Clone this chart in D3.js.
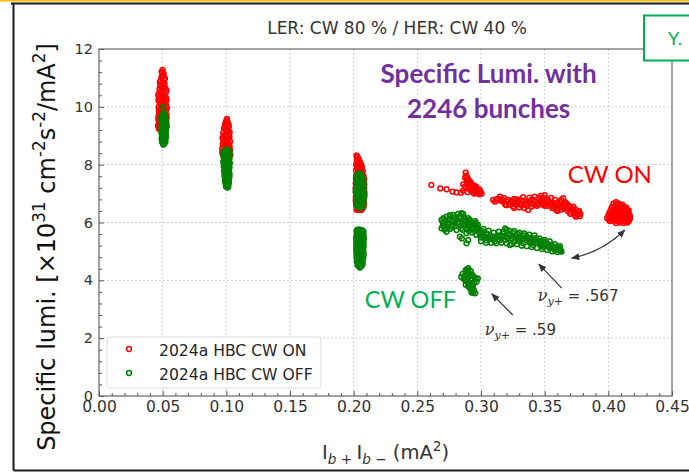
<!DOCTYPE html>
<html><head><meta charset="utf-8">
<script src="https://cdn.jsdelivr.net/npm/d3@7"></script>
<style>html,body{margin:0;padding:0;background:#fff;} svg{display:block;}</style>
</head><body>
<svg id="chart" width="689" height="474"></svg>
<script>
// Axis ticks
const xTicks = [0, 0.05, 0.10, 0.15, 0.20, 0.25, 0.30, 0.35, 0.40, 0.45];
const yTicks = [0, 2, 4, 6, 8, 10, 12];
const seriesNames = ["2024a HBC CW ON", "2024a HBC CW OFF"];

// Specific luminosity vs. Ib+ * Ib- (mA^2), crab waist ON
const cwOn = [
  // 0.05 mA^2
  [0.0500,11.28],[0.0495,11.18],[0.0505,11.10],[0.0490,11.02],[0.0510,10.95],[0.0485,10.90],[0.0500,10.85],[0.0515,10.80],
  [0.0480,10.75],[0.0495,10.70],[0.0520,10.65],[0.0475,10.62],[0.0505,10.58],[0.0488,10.52],[0.0525,10.50],[0.0470,10.46],
  [0.0500,10.42],[0.0515,10.38],[0.0478,10.34],[0.0528,10.30],[0.0492,10.28],[0.0466,10.24],[0.0508,10.20],[0.0522,10.15],
  [0.0480,10.12],[0.0495,10.06],[0.0530,10.02],[0.0468,10.00],[0.0512,9.96],[0.0485,9.92],[0.0525,9.86],[0.0472,9.82],
  [0.0500,9.78],[0.0530,9.72],[0.0478,9.68],[0.0520,9.60],[0.0466,9.56],[0.0528,9.50],[0.0472,9.44],[0.0525,9.40],
  [0.0464,9.34],[0.0478,9.28],[0.0470,9.24],[0.0532,9.32],
  [0.0492,11.22],[0.0508,11.15],[0.0498,11.05],[0.0518,10.98],[0.0478,10.86],[0.0508,10.76],[0.0490,10.64],[0.0530,10.58],
  [0.0465,10.40],[0.0488,10.38],[0.0510,10.32],[0.0474,10.18],[0.0500,10.16],[0.0530,10.22],[0.0488,10.02],[0.0515,10.08],
  [0.0470,9.90],[0.0532,9.94],[0.0478,9.74],[0.0466,9.66],[0.0532,9.62],[0.0474,9.50],[0.0468,9.40],[0.0530,9.44],[0.0483,9.36],
  // 0.10 mA^2
  [0.1005,9.58],[0.0998,9.50],[0.1012,9.45],[0.0990,9.40],[0.1008,9.35],[0.1020,9.30],[0.0982,9.26],[0.0998,9.22],
  [0.1015,9.18],[0.1026,9.12],[0.0975,9.10],[0.0992,9.05],[0.1010,9.00],[0.1024,8.95],[0.0970,8.92],[0.0985,8.88],
  [0.1002,8.84],[0.1030,8.80],[0.1016,8.76],[0.0972,8.72],[0.0990,8.68],[0.1026,8.64],[0.1008,8.60],[0.0968,8.56],
  [0.1030,8.50],[0.0980,8.46],[0.1020,8.42],[0.0970,8.38],[0.1032,8.35],
  [0.1002,9.52],[0.1018,9.38],[0.0988,9.32],[0.1004,9.14],[0.0980,9.00],[0.1022,9.04],[0.0996,8.96],[0.1012,8.90],
  [0.0978,8.80],[0.0995,8.78],[0.1020,8.70],[0.0982,8.62],[0.1015,8.54],[0.0995,8.52],[0.0968,8.45],[0.1028,8.30],
  // 0.205 mA^2
  [0.2022,8.32],[0.2030,8.25],[0.2040,8.20],[0.2025,8.15],[0.2048,8.10],[0.2035,8.05],[0.2020,8.00],[0.2055,7.98],
  [0.2042,7.92],[0.2028,7.88],[0.2060,7.85],[0.2018,7.80],[0.2050,7.76],[0.2035,7.72],[0.2068,7.68],[0.2022,7.64],
  [0.2075,7.55],[0.2018,7.50],[0.2078,7.40],[0.2016,7.35],[0.2080,7.25],[0.2015,7.20],[0.2082,7.10],[0.2016,7.05],
  [0.2084,6.95],[0.2018,6.90],[0.2082,6.80],[0.2016,6.75],[0.2080,6.65],[0.2020,6.60],[0.2075,6.52],[0.2030,6.48],
  [0.2050,6.45],[0.2065,6.47],[0.2022,6.44],
  [0.2028,8.28],[0.2038,8.12],[0.2058,8.02],[0.2065,7.92],[0.2025,7.96],[0.2045,7.84],[0.2072,7.78],[0.2030,7.70],
  [0.2055,7.66],[0.2078,7.60],[0.2030,7.58],[0.2082,7.48],[0.2022,7.44],[0.2020,7.28],[0.2084,7.32],[0.2018,7.15],
  [0.2082,7.18],[0.2085,7.02],[0.2020,6.98],[0.2017,6.84],[0.2083,6.88],[0.2018,6.68],[0.2080,6.72],[0.2078,6.58],
  [0.2025,6.54],[0.2040,6.44],[0.2060,6.43],
  // scan 0.26 - 0.30
  [0.2610,7.30],[0.2680,7.18],[0.2730,7.15],[0.2776,7.07],[0.2808,7.04],[0.2841,7.03],[0.2860,7.10],[0.2880,7.72],
  [0.2885,7.62],[0.2875,7.55],[0.2890,7.45],[0.2915,7.40],[0.2895,7.38],[0.2875,7.25],[0.2910,7.30],[0.2925,7.35],
  [0.2905,7.22],[0.2935,7.20],[0.2950,7.12],[0.2965,7.18],[0.2925,7.08],[0.2975,7.05],[0.2995,7.08],[0.3005,7.00],
  [0.2945,7.00],[0.2895,7.05],[0.2985,6.98],[0.2940,7.28],[0.2960,7.25],
  [0.2890,7.58],[0.2900,7.50],[0.2905,7.44],[0.2930,7.27],[0.2955,7.22],[0.2985,7.15],[0.2915,7.14],[0.2935,7.12],
  [0.2965,7.08],[0.2990,7.02],[0.2955,7.05],[0.2880,7.18],[0.2860,7.32],
  // scan 0.31 - 0.38
  [0.3095,6.78],[0.3148,6.89],[0.3174,6.72],[0.3213,6.78],[0.3252,6.66],[0.3252,6.55],[0.3291,6.72],[0.3318,6.60],
  [0.3357,6.66],[0.3370,6.43],[0.3396,6.78],[0.3422,6.89],[0.3462,6.84],[0.3500,6.95],[0.3514,6.78],[0.3540,6.66],
  [0.3566,6.55],[0.3592,6.43],[0.3645,6.84],[0.3670,6.66],[0.3697,6.55],[0.3723,6.43],[0.3763,6.37],[0.3776,6.22],
  [0.3736,6.26],[0.3120,6.80],[0.3180,6.85],[0.3230,6.70],[0.3280,6.62],[0.3330,6.72],[0.3380,6.70],[0.3430,6.75],
  [0.3480,6.80],[0.3530,6.72],[0.3570,6.68],[0.3610,6.60],[0.3640,6.55],[0.3660,6.48],[0.3680,6.40],[0.3710,6.50],
  [0.3740,6.45],[0.3755,6.30],[0.3780,6.30],[0.3620,6.70],[0.3580,6.78],[0.3550,6.85],[0.3470,6.92],[0.3450,6.62],
  [0.3500,6.58],[0.3410,6.62],[0.3360,6.58],[0.3305,6.78],[0.3260,6.82],[0.3190,6.62],[0.3155,6.75],[0.3605,6.48],
  [0.3655,6.62],[0.3700,6.36],[0.3745,6.20],
  [0.3110,6.72],[0.3135,6.82],[0.3165,6.80],[0.3200,6.74],[0.3220,6.62],[0.3240,6.75],[0.3270,6.70],[0.3300,6.65],
  [0.3320,6.76],[0.3345,6.64],[0.3370,6.74],[0.3395,6.68],[0.3415,6.78],[0.3440,6.68],[0.3470,6.72],[0.3490,6.86],
  [0.3510,6.66],[0.3525,6.80],[0.3555,6.62],[0.3575,6.58],[0.3600,6.66],[0.3625,6.56],[0.3650,6.50],[0.3665,6.56],
  [0.3690,6.46],[0.3715,6.42],[0.3730,6.34],[0.3760,6.26],[0.3770,6.40],[0.3725,6.55],[0.3685,6.60],[0.3630,6.78],[0.3660,6.70],
  [0.3200,6.60],[0.3260,6.50],[0.3300,6.52],[0.3340,6.50],[0.3400,6.55],[0.3440,6.58],[0.3480,6.62],[0.3380,6.86],
  [0.3330,6.88],[0.3280,6.80],[0.3520,6.58],[0.3560,6.50],[0.3600,6.40],[0.3630,6.45],[0.3700,6.30],
  // 0.41 mA^2
  [0.4040,6.65],[0.4080,6.66],[0.4110,6.62],
  [0.4030,6.55],[0.4060,6.56],[0.4090,6.55],[0.4120,6.54],[0.4140,6.52],
  [0.4020,6.45],[0.4050,6.45],[0.4080,6.46],[0.4110,6.45],[0.4140,6.44],[0.4160,6.42],
  [0.4010,6.35],[0.4040,6.35],[0.4070,6.36],[0.4100,6.35],[0.4130,6.34],[0.4160,6.33],
  [0.4000,6.25],[0.4030,6.25],[0.4060,6.26],[0.4090,6.25],[0.4120,6.24],[0.4150,6.25],[0.4170,6.23],
  [0.3990,6.15],[0.4020,6.15],[0.4050,6.16],[0.4080,6.15],[0.4110,6.14],[0.4140,6.15],[0.4170,6.13],
  [0.4010,6.05],[0.4040,6.05],[0.4070,6.06],[0.4100,6.05],[0.4130,6.04],[0.4160,6.05],
  [0.4060,5.98],[0.4120,5.98],
  [0.4060,6.70],[0.4095,6.60],[0.4045,6.50],[0.4075,6.50],[0.4105,6.50],[0.4130,6.48],[0.4035,6.40],[0.4065,6.40],
  [0.4095,6.40],[0.4125,6.40],[0.4150,6.38],[0.4025,6.30],[0.4055,6.30],[0.4085,6.30],[0.4115,6.30],[0.4145,6.30],
  [0.4015,6.20],[0.4045,6.20],[0.4075,6.20],[0.4105,6.20],[0.4135,6.20],[0.4165,6.18],[0.4005,6.10],[0.4035,6.10],
  [0.4065,6.10],[0.4095,6.10],[0.4125,6.10],[0.4155,6.10],[0.4090,6.00],[0.4150,6.00]
];

// Crab waist OFF
const cwOff = [
  // 0.05 mA^2
  [0.0502,10.00],
  [0.0505,9.78],[0.0495,9.72],[0.0515,9.70],[0.0500,9.64],[0.0520,9.60],[0.0490,9.58],[0.0508,9.54],[0.0525,9.50],
  [0.0494,9.48],[0.0515,9.44],[0.0500,9.40],[0.0522,9.36],[0.0490,9.34],[0.0508,9.30],[0.0525,9.26],[0.0495,9.24],
  [0.0515,9.20],[0.0500,9.16],[0.0522,9.12],[0.0490,9.10],[0.0510,9.06],[0.0525,9.02],[0.0495,9.00],[0.0515,8.96],
  [0.0502,8.92],[0.0520,8.88],[0.0494,8.86],[0.0510,8.82],[0.0500,8.77],[0.0515,8.73],[0.0505,8.69],
  [0.0492,9.66],[0.0512,9.76],[0.0522,9.66],[0.0492,9.52],[0.0518,9.56],[0.0505,9.46],[0.0525,9.40],[0.0495,9.36],
  [0.0515,9.32],[0.0502,9.28],[0.0490,9.20],[0.0525,9.18],[0.0508,9.12],[0.0495,9.06],[0.0520,9.08],[0.0505,8.98],
  [0.0525,8.94],[0.0492,8.92],[0.0512,8.88],[0.0500,8.84],[0.0522,8.80],[0.0495,8.78],[0.0508,8.72],
  // 0.10 mA^2
  [0.1000,8.52],[0.0985,8.46],[0.1015,8.44],[0.0975,8.40],[0.1028,8.38],[0.0995,8.34],[0.1010,8.30],[0.0978,8.26],
  [0.1025,8.22],[0.0992,8.18],[0.1012,8.14],[0.0975,8.10],[0.1028,8.06],[0.0998,8.02],[0.1015,7.98],[0.0980,7.94],
  [0.1025,7.90],[0.0995,7.86],[0.1010,7.82],[0.0982,7.78],[0.1022,7.74],[0.0998,7.70],[0.1012,7.66],[0.0985,7.62],
  [0.1025,7.58],[0.1000,7.54],[0.1015,7.50],[0.0990,7.46],[0.1020,7.42],[0.1005,7.38],[0.0995,7.34],[0.1015,7.30],
  [0.1002,7.26],[0.1010,7.21],
  [0.0992,8.50],[0.1022,8.48],[0.1005,8.42],[0.0985,8.36],[0.1018,8.32],[0.1000,8.26],[0.0982,8.20],[0.1020,8.16],
  [0.1002,8.10],[0.0985,8.04],[0.1022,8.00],[0.1005,7.94],[0.0988,7.88],[0.1020,7.84],[0.1003,7.78],[0.0988,7.72],
  [0.1025,7.68],[0.1005,7.62],[0.0990,7.56],[0.1020,7.52],[0.1005,7.46],[0.0992,7.40],[0.1018,7.36],[0.1005,7.30],
  [0.0998,7.24],[0.1015,7.24],
  // 0.205 mA^2, upper group
  [0.2040,7.70],[0.2025,7.64],[0.2058,7.62],[0.2018,7.56],[0.2045,7.55],[0.2072,7.52],[0.2030,7.48],[0.2060,7.44],
  [0.2018,7.40],[0.2080,7.38],[0.2045,7.34],[0.2025,7.28],[0.2068,7.26],[0.2082,7.20],[0.2035,7.18],[0.2016,7.12],
  [0.2055,7.10],[0.2078,7.04],[0.2028,7.00],[0.2062,6.96],[0.2018,6.92],[0.2045,6.88],[0.2080,6.85],[0.2030,6.80],
  [0.2065,6.76],[0.2020,6.72],[0.2050,6.68],[0.2075,6.64],[0.2035,6.60],[0.2058,6.56],[0.2040,6.52],
  [0.2055,7.68],[0.2035,7.60],[0.2065,7.56],[0.2042,7.44],[0.2025,7.36],[0.2062,7.34],[0.2048,7.24],[0.2020,7.22],
  [0.2072,7.14],[0.2042,7.06],[0.2018,7.04],[0.2068,7.02],[0.2040,6.96],[0.2082,6.94],[0.2022,6.84],[0.2058,6.84],
  [0.2040,6.76],[0.2078,6.74],[0.2032,6.66],[0.2065,6.62],[0.2022,6.58],[0.2075,6.55],[0.2050,6.50],
  // 0.205 mA^2, lower group
  [0.2040,5.76],[0.2060,5.74],[0.2022,5.70],[0.2078,5.68],[0.2048,5.64],[0.2028,5.60],[0.2068,5.56],[0.2020,5.52],
  [0.2050,5.50],[0.2080,5.46],[0.2032,5.42],[0.2062,5.38],[0.2020,5.34],[0.2045,5.30],[0.2078,5.26],[0.2028,5.22],
  [0.2060,5.18],[0.2020,5.14],[0.2048,5.10],[0.2075,5.06],[0.2030,5.02],[0.2062,4.98],[0.2022,4.94],[0.2050,4.90],
  [0.2078,4.86],[0.2032,4.82],[0.2060,4.78],[0.2025,4.74],[0.2048,4.70],[0.2072,4.66],[0.2035,4.62],[0.2058,4.58],
  [0.2040,4.54],[0.2062,4.50],[0.2045,4.46],
  [0.2028,5.74],[0.2070,5.72],[0.2040,5.66],[0.2058,5.60],[0.2078,5.56],[0.2035,5.52],[0.2062,5.48],[0.2022,5.44],
  [0.2050,5.40],[0.2078,5.36],[0.2035,5.32],[0.2060,5.28],[0.2020,5.24],[0.2048,5.20],[0.2078,5.16],[0.2035,5.12],
  [0.2062,5.08],[0.2020,5.04],[0.2048,5.00],[0.2078,4.96],[0.2035,4.92],[0.2062,4.88],[0.2022,4.84],[0.2050,4.80],
  [0.2075,4.76],[0.2035,4.72],[0.2060,4.68],[0.2025,4.64],[0.2048,4.60],[0.2070,4.56],[0.2030,4.52],[0.2052,4.48],[0.2050,4.44],
  // scan 0.27 - 0.36
  [0.2690,6.09],[0.2690,5.80],[0.2729,6.20],[0.2742,5.91],[0.2729,5.68],[0.2781,6.26],[0.2794,5.97],[0.2808,5.74],
  [0.2834,6.14],[0.2847,6.32],[0.2860,5.91],[0.2886,5.63],[0.2899,5.39],[0.2912,6.09],[0.2925,5.80],[0.2951,5.91],
  [0.2964,5.57],[0.2991,5.68],[0.2834,5.51],[0.2886,5.28],
  [0.3017,5.57],[0.3043,5.39],[0.3082,5.45],[0.3108,5.34],[0.3148,5.39],[0.3174,5.68],[0.3200,5.74],[0.3213,5.45],
  [0.3226,5.22],[0.3252,5.63],[0.3265,5.34],[0.3305,5.45],[0.3331,5.28],[0.3357,5.51],[0.3383,5.34],[0.3410,5.22],
  [0.3435,5.39],[0.3462,5.28],[0.3488,5.16],[0.3514,5.22],[0.3540,5.11],[0.3579,5.05],[0.3619,5.02],[0.3632,4.99],
  [0.3060,5.50],[0.3120,5.48],[0.3160,5.55],[0.3190,5.40],[0.3230,5.55],[0.3280,5.45],[0.3320,5.40],[0.3360,5.38],
  [0.3400,5.42],[0.3440,5.30],[0.3470,5.20],[0.3500,5.30],[0.3530,5.18],[0.3560,5.12],[0.3590,5.10],[0.3610,5.05],
  [0.3045,5.62],[0.3000,5.48],[0.2970,5.75],[0.2930,5.65],[0.2900,5.95],[0.2870,6.05],[0.2830,5.85],[0.2780,6.05],
  [0.2760,5.78],[0.2710,5.95],[0.2705,6.15],[0.2755,6.25],[0.2820,6.30],[0.2865,6.20],[0.2890,5.78],[0.2940,5.98],
  [0.2970,5.85],[0.3000,5.62],[0.3290,5.60],[0.3340,5.55],[0.3380,5.48],[0.3420,5.45],[0.3450,5.38],[0.3490,5.35],
  [0.3520,5.28],[0.3550,5.22],[0.3580,5.15],[0.3615,5.12],[0.2850,5.45],
  [0.2700,5.88],[0.2720,6.05],[0.2735,5.80],[0.2750,6.12],[0.2770,5.92],[0.2790,6.18],[0.2805,5.88],[0.2815,6.00],
  [0.2840,6.22],[0.2850,5.98],[0.2855,5.75],[0.2875,6.12],[0.2880,5.90],[0.2900,6.15],[0.2905,5.70],[0.2920,5.92],
  [0.2935,5.78],[0.2950,5.70],[0.2960,5.98],[0.2980,5.80],[0.2990,5.55],[0.3010,5.70],[0.3030,5.50],[0.3050,5.58],
  [0.3070,5.42],[0.3090,5.52],[0.3100,5.42],[0.3130,5.40],[0.3140,5.55],[0.3170,5.48],[0.3180,5.62],[0.3200,5.50],
  [0.3215,5.62],[0.3240,5.45],[0.3250,5.52],[0.3275,5.55],[0.3295,5.38],[0.3310,5.52],[0.3340,5.45],[0.3370,5.42],
  [0.3395,5.30],[0.3410,5.35],[0.3430,5.45],[0.3455,5.35],[0.3475,5.28],[0.3505,5.22],[0.3525,5.20],[0.3545,5.15],
  [0.3565,5.18],[0.3595,5.06],[0.3605,5.12],[0.3625,5.04],
  [0.3000,5.35],[0.3040,5.30],[0.3080,5.30],[0.3120,5.28],[0.3160,5.30],[0.3200,5.28],[0.3240,5.25],[0.3280,5.25],
  [0.3320,5.20],[0.3360,5.18],[0.3400,5.15],[0.3440,5.12],[0.3480,5.08],[0.3520,5.05],[0.3560,5.00],[0.3600,4.98],
  [0.3020,5.78],[0.3060,5.72],[0.3100,5.65],[0.3140,5.68],[0.3190,5.80],[0.3220,5.72],[0.3260,5.70],[0.3300,5.65],
  [0.3340,5.62],[0.3380,5.58],[0.3420,5.55],[0.3460,5.45],[0.3500,5.40],[0.3540,5.35],[0.3580,5.25],[0.3620,5.18],
  [0.2700,6.00],[0.2715,5.75],[0.2745,6.00],[0.2760,6.22],[0.2775,5.85],[0.2800,6.10],[0.2825,5.95],[0.2830,6.20],
  [0.2845,5.80],[0.2870,5.95],[0.2860,6.30],[0.2895,6.05],[0.2910,5.85],[0.2925,6.02],[0.2945,5.82],[0.2955,6.05],
  [0.2975,5.92],[0.2985,5.70],
  // 0.29 mA^2, low group
  [0.2900,4.42],[0.2880,4.35],[0.2920,4.32],[0.2855,4.22],[0.2885,4.20],[0.2915,4.18],[0.2945,4.12],[0.2975,4.07],
  [0.2845,4.12],[0.2895,4.05],[0.2930,4.00],[0.2965,3.95],[0.2910,3.92],[0.2880,3.85],[0.2935,3.82],[0.2915,3.72],
  [0.2945,3.65],[0.2925,3.58],[0.2955,3.55],[0.2900,3.80],[0.2895,4.28],[0.2865,4.05],
  [0.2890,4.38],[0.2910,4.25],[0.2870,4.15],[0.2900,4.12],[0.2930,4.20],[0.2960,4.05],[0.2920,4.06],[0.2880,3.98],
  [0.2945,3.90],[0.2900,3.88],[0.2925,3.86],[0.2905,3.78],[0.2935,3.74],[0.2930,3.65],[0.2940,3.56]
];

const W = 689, H = 474;
const box = {left: 99, right: 672, top: 49, bottom: 396};
const colOn = "#ff0000", colOff = "#008000";
const tickFont = "DejaVu Sans, sans-serif";
const slideFont = "Lato, 'Open Sans', sans-serif";
const markR = 2.4, markW = 1.5;

const svg = d3.select("#chart");
const x = d3.scaleLinear().domain([0, 0.45]).range([box.left, box.right]);
const y = d3.scaleLinear().domain([0, 12]).range([box.bottom, box.top]);

svg.append("rect").attr("width", W).attr("height", H).attr("fill", "#fff");

// slide frame
svg.append("rect").attr("x", 0).attr("y", 0).attr("width", W).attr("height", 1.6).attr("fill", "#f2c014");
svg.append("path").attr("d", `M11,3.5 H${W} M13.5,3.5 V470.5 M13.5,470.5 H${W}`)
  .attr("stroke", "#1c1c1c").attr("stroke-width", 2).attr("fill", "none");

// grid
const grid = svg.append("g").attr("stroke", "#cfcfcf").attr("stroke-width", 1).attr("stroke-dasharray", "2,2");
grid.selectAll("line.gx").data(xTicks.slice(1, -1)).join("line")
  .attr("x1", d => x(d)).attr("x2", d => x(d)).attr("y1", box.top).attr("y2", box.bottom);
grid.selectAll("line.gy").data(yTicks.slice(1, -1)).join("line")
  .attr("y1", d => y(d)).attr("y2", d => y(d)).attr("x1", box.left).attr("x2", box.right);

// minor ticks
const xMinor = d3.range(0, 0.4501, 0.01).filter(v => Math.abs(v / 0.05 - Math.round(v / 0.05)) > 1e-6);
const yMinor = d3.range(0, 12.001, 0.4).filter(v => Math.abs(v / 2 - Math.round(v / 2)) > 1e-6);

function styleAxis(size) {
  return g => {
    g.select(".domain").remove();
    g.selectAll(".tick line").attr("stroke", "#555").attr("stroke-width", 1);
    g.selectAll(".tick text").attr("fill", "#333").attr("font-family", tickFont).attr("font-size", size);
  };
}

svg.append("g").attr("transform", `translate(0,${box.bottom})`)
  .call(d3.axisBottom(x).tickValues(xMinor).tickFormat("").tickSizeInner(-3).tickSizeOuter(0))
  .call(styleAxis(15));
svg.append("g").attr("transform", `translate(${box.left},0)`)
  .call(d3.axisLeft(y).tickValues(yMinor).tickFormat("").tickSizeInner(-3).tickSizeOuter(0))
  .call(styleAxis(15));
svg.append("g").attr("transform", `translate(0,${box.bottom})`)
  .call(d3.axisBottom(x).tickValues(xTicks).tickFormat(d3.format(".2f")).tickSizeInner(-5).tickSizeOuter(0).tickPadding(5))
  .call(styleAxis(15.5));
svg.append("g").attr("transform", `translate(${box.left},0)`)
  .call(d3.axisLeft(y).tickValues(yTicks).tickFormat(d3.format("d")).tickSizeInner(-5).tickSizeOuter(0).tickPadding(6))
  .call(styleAxis(14.5));

// plot frame
svg.append("rect").attr("x", box.left).attr("y", box.top)
  .attr("width", box.right - box.left).attr("height", box.bottom - box.top)
  .attr("fill", "none").attr("stroke", "#666").attr("stroke-width", 1.2);

// scatter
function drawSeries(data, color) {
  svg.append("g").selectAll("circle").data(data).join("circle")
    .attr("cx", d => x(d[0])).attr("cy", d => y(d[1])).attr("r", markR)
    .attr("fill", "none").attr("stroke", color).attr("stroke-width", markW);
}
drawSeries(cwOn, colOn);
drawSeries(cwOff, colOff);

// legend
const lg = svg.append("g");
lg.append("rect").attr("x", 107).attr("y", 337).attr("width", 214).attr("height", 51).attr("rx", 3)
  .attr("fill", "#fff").attr("fill-opacity", 0.85).attr("stroke", "#dcdcdc");
[colOn, colOff].forEach((c, i) => {
  lg.append("circle").attr("cx", 129).attr("cy", 349 + i * 24).attr("r", markR)
    .attr("fill", "none").attr("stroke", c).attr("stroke-width", markW);
  lg.append("text").attr("x", 159).attr("y", 356 + i * 24).text(seriesNames[i])
    .attr("font-family", tickFont).attr("font-size", 15.6).attr("fill", "#262626");
});

// axis titles with super/subscripts
function richText(sel, parts, size) {
  let shift = 0;
  parts.forEach(([t, kind, style]) => {
    const target = kind === "sup" ? -0.42 * size : (kind === "sub" ? 0.28 * size : 0);
    const ts = sel.append("tspan").text(t).attr("dy", target - shift);
    shift = target;
    if (kind) ts.attr("font-size", size * 0.7);
    if (style === "i") ts.attr("font-style", "italic");
  });
}
const ylSize = 24;
const yl = svg.append("text").attr("transform", "translate(55,247) rotate(-90)")
  .attr("text-anchor", "middle").attr("font-family", tickFont).attr("font-size", ylSize).attr("fill", "#111");
richText(yl, [["Specific lumi. [\u00d710", ""], ["31", "sup"], [" cm", ""], ["-2", "sup"], ["s", ""], ["-2", "sup"], ["/mA", ""], ["2", "sup"], ["]", ""]], ylSize);

const xlSize = 19.5;
const xl = svg.append("text").attr("x", (box.left + box.right) / 2).attr("y", 459)
  .attr("text-anchor", "middle").attr("font-family", tickFont).attr("font-size", xlSize).attr("fill", "#333");
richText(xl, [["I", ""], ["b", "sub", "i"], [" + ", "sub"], ["I", ""], ["b", "sub", "i"], [" \u2212", "sub"], ["  (mA", ""], ["2", "sup"], [")", ""]], xlSize);

svg.append("text").attr("x", 397).attr("y", 34).attr("text-anchor", "middle")
  .attr("font-family", tickFont).attr("font-size", 17).attr("fill", "#333")
  .text("LER: CW 80 % / HER: CW 40 %");

// corner tag
svg.append("rect").attr("x", 644).attr("y", 15.5).attr("width", 60).attr("height", 45)
  .attr("fill", "#fff").attr("stroke", "#00b050").attr("stroke-width", 2);
svg.append("text").attr("x", 668).attr("y", 45).text("Y.")
  .attr("font-family", slideFont).attr("font-size", 18).attr("fill", "#00b050");

// annotations
svg.append("text").attr("x", x(0.306)).attr("y", y(10.82)).attr("text-anchor", "middle")
  .attr("font-family", slideFont).attr("font-weight", 700).attr("font-size", 26).attr("fill", "#7030a0")
  .text("Specific Lumi. with");
svg.append("text").attr("x", x(0.306)).attr("y", y(9.61)).attr("text-anchor", "middle")
  .attr("font-family", slideFont).attr("font-weight", 700).attr("font-size", 26).attr("fill", "#7030a0")
  .text("2246 bunches");
svg.append("text").attr("x", x(0.3681)).attr("y", y(7.37))
  .attr("font-family", slideFont).attr("font-size", 24).attr("fill", "#ff0000").text("CW ON");
svg.append("text").attr("x", x(0.2088)).attr("y", y(3.04))
  .attr("font-family", slideFont).attr("font-size", 23.5).attr("fill", "#00b050").text("CW OFF");

function nuLabel(px, py, value) {
  const t = svg.append("text").attr("x", x(px)).attr("y", y(py)).attr("font-size", 15).attr("fill", "#333");
  t.append("tspan").text("\u03bd").attr("font-family", "DejaVu Serif, serif").attr("font-style", "italic").attr("font-size", 16);
  t.append("tspan").text("y+").attr("font-family", "DejaVu Serif, serif").attr("font-style", "italic")
    .attr("font-size", 11).attr("dy", 4);
  t.append("tspan").text(" = " + value).attr("font-family", tickFont).attr("dy", -4);
}
nuLabel(0.3446, 3.28, ".567");
nuLabel(0.3030, 2.11, ".59");

const defs = svg.append("defs");
defs.append("marker").attr("id", "ah").attr("viewBox", "0 0 10 10").attr("refX", 9).attr("refY", 5)
  .attr("markerWidth", 7).attr("markerHeight", 7).attr("orient", "auto-start-reverse")
  .append("path").attr("d", "M0,1 L10,5 L0,9 z").attr("fill", "#333");

function arrow(a, b, bend, both) {
  const p0 = [x(a[0]), y(a[1])], p1 = [x(b[0]), y(b[1])];
  const mx = (p0[0] + p1[0]) / 2, my = (p0[1] + p1[1]) / 2;
  const dx = p1[0] - p0[0], dy = p1[1] - p0[1], L = Math.hypot(dx, dy);
  const cx = mx - dy / L * bend, cy = my + dx / L * bend;
  const p = d3.path();
  p.moveTo(p0[0], p0[1]);
  p.quadraticCurveTo(cx, cy, p1[0], p1[1]);
  const el = svg.append("path").attr("d", p.toString()).attr("fill", "none")
    .attr("stroke", "#333").attr("stroke-width", 1.2).attr("marker-end", "url(#ah)");
  if (both) el.attr("marker-start", "url(#ah)");
}
arrow([0.3634, 3.73], [0.3454, 4.56], 0, false);
arrow([0.3250, 2.80], [0.3085, 3.53], 0, false);
arrow([0.3713, 4.77], [0.4129, 5.74], 9, true);
</script>
</body></html>
